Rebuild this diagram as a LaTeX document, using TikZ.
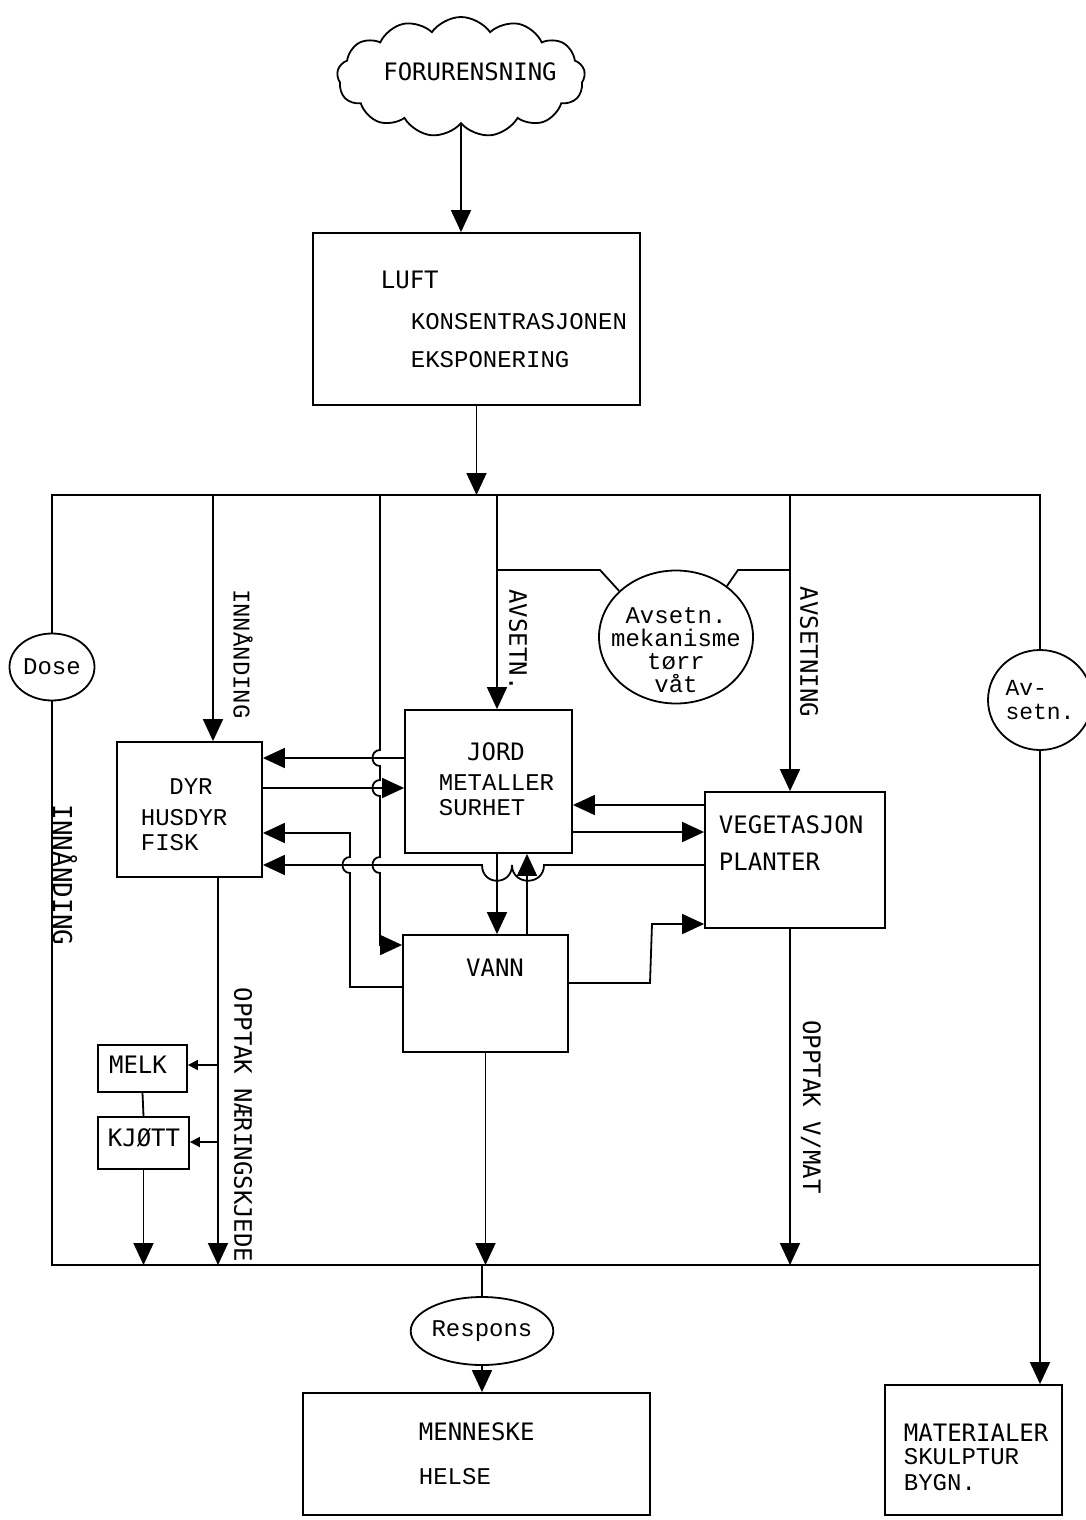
\documentclass[tikz,border=0pt]{standalone}
\usepackage{fontspec}
\usetikzlibrary{shapes.geometric,shapes.symbols,arrows.meta,calc}
\newfontfamily\tsans{DejaVu Sans Mono}
\newfontfamily\tser{Liberation Mono}
\begin{document}
\begin{tikzpicture}[x=0.5pt,y=-0.5pt,
  line width=0.9pt,
  box/.style={draw, rectangle, inner sep=0pt},
  oval/.style={draw, ellipse, inner sep=0pt},
  txs/.style={font=\tsans\fontsize{12}{14}\selectfont, inner sep=0pt},
  txr/.style={font=\tser\fontsize{12}{14}\selectfont, inner sep=0pt},
  arr/.style={-{Triangle[width=10pt,length=11pt]}},
  sarr/.style={-{Triangle[width=5pt,length=5pt]}},
]
\useasboundingbox (0,0) rectangle (1086,1520);

% level coordinates
\coordinate (tb) at (0,495);
\coordinate (bb) at (0,1265);
\coordinate (y570) at (0,570);
\coordinate (y758) at (0,758);
\coordinate (y788) at (0,788);
\coordinate (y805) at (0,805);
\coordinate (y832) at (0,832);
\coordinate (y833) at (0,833);
\coordinate (y865) at (0,865);
\coordinate (y924) at (0,924);
\coordinate (y945) at (0,945);
\coordinate (y983) at (0,983);
\coordinate (y987) at (0,987);
\coordinate (y1065) at (0,1065);
\coordinate (y1142) at (0,1142);
\coordinate (x213) at (213,0);
\coordinate (x218) at (218,0);
\coordinate (x380) at (380,0);
\coordinate (x497) at (497,0);
\coordinate (x527) at (527,0);
\coordinate (x790) at (790,0);

% shapes
\node[draw, cloud, cloud puffs=13, cloud puff arc=110, minimum width=124pt, minimum height=60pt] (cloud) at (461,77) {};
\node[box, minimum width=163.5pt, minimum height=86pt] (luft) at (476.5,319) {};
\node[box, minimum width=72.5pt, minimum height=67.5pt] (dyr) at (189.5,809.5) {};
\node[box, minimum width=83.5pt, minimum height=71.5pt] (jord) at (488.5,781.5) {};
\node[box, minimum width=90pt, minimum height=68pt] (veg) at (795,860) {};
\node[box, minimum width=82.5pt, minimum height=58.5pt] (vann) at (485.5,993.5) {};
\node[box, minimum width=44.5pt, minimum height=23.5pt] (melk) at (142.5,1068.5) {};
\node[box, minimum width=45.5pt, minimum height=26pt] (kjott) at (143.5,1143) {};
\node[box, minimum width=173.5pt, minimum height=61pt] (mann) at (476.5,1454) {};
\node[box, minimum width=88.5pt, minimum height=65pt] (mat) at (973.5,1450) {};

\node[oval, minimum width=42.5pt, minimum height=33.5pt, txr] (dose) at (52,667) {Dose};
\node[oval, minimum width=64.5pt, minimum height=34pt, txr] (resp) at (482,1331) {Respons};
\node[oval, minimum width=77pt, minimum height=66.5pt] (mek) at (676,637) {};
\node[oval, minimum width=52pt, minimum height=50pt, align=left, font=\tser\fontsize{11.5}{12}\selectfont] (avs) at (1040,700) {Av-\\setn.};

% texts
\node[txs] (cloudT) at (470,72) {FORURENSNING};
\node[txs, anchor=west] (luftT) at (380,280) {LUFT};
\node[txr, anchor=west] (konsT) at (410,322) {KONSENTRASJONEN};
\node[txr, anchor=west] (eksT) at (410,360) {EKSPONERING};
\node[txr, align=center, font=\tser\fontsize{12}{11.5}\selectfont] (mekT) at (676,650) {Avsetn.\\mekanisme\\tørr\\våt};
\node[txs] (jordT) at (496,752) {JORD};
\node[txr, anchor=west] (metT) at (438,783) {METALLER};
\node[txr, anchor=west] (surT) at (438,808) {SURHET};
\node[txr] (dyrT) at (191,787) {DYR};
\node[txr, anchor=west] (husT) at (140,818) {HUSDYR};
\node[txr, anchor=west] (fiskT) at (140,843) {FISK};
\node[txs, anchor=west] (vegT) at (718,825) {VEGETASJON};
\node[txs, anchor=west] (planT) at (718,862) {PLANTER};
\node[txs] (vannT) at (495,968) {VANN};
\node[txs] (melkT) at (138,1065) {MELK};
\node[txs] (kjottT) at (144,1138) {KJØTT};
\node[txs, anchor=west] (menT) at (418,1432) {MENNESKE};
\node[txr, anchor=west] (helT) at (418,1477) {HELSE};
\node[txs, anchor=west] (matT) at (903,1433) {MATERIALER};
\node[txr, anchor=west] (skuT) at (903,1457) {SKULPTUR};
\node[txr, anchor=west] (bygT) at (903,1483) {BYGN.};

% rotated labels
\node[txr, rotate=-90] (innTop) at (243,654) {INNÅNDING};
\node[txs, rotate=-90] (avsetnL) at (518,640) {AVSETN.};
\node[txs, rotate=-90] (avsetningL) at (809,652) {AVSETNING};
\node[txs, rotate=-90, font=\tsans\fontsize{13}{14}\selectfont] (innLeft) at (65,875) {INNÅNDING};
\node[txs, rotate=-90] (opptakN) at (243,1125) {OPPTAK NÆRINGSKJEDE};
\node[txs, rotate=-90] (opptakV) at (811,1107) {OPPTAK V/MAT};

% connectors
\draw[arr] (cloud.south) -- (cloud.south |- luft.north);
\draw[arr] (luft.south) -- (luft.south |- tb);
\draw (dose.north) -- (dose.north |- tb) -- (avs.north |- tb) -- (avs.north);
\draw (dose.south) -- (dose.south |- bb) -- (avs.south |- bb);
\draw[arr] (avs.south) -- (avs.south |- mat.north);

\draw[arr] (x213 |- tb) -- (x213 |- dyr.north);
\draw[arr] (x497 |- tb) -- (x497 |- jord.north);
\draw[arr] (x790 |- tb) -- (x790 |- veg.north);
\draw (x497 |- y570) -- (600,570) -- (mek.141);
\draw (mek.45) -- (738,570) -- (x790 |- y570);

\draw[arr] (x380 |- tb) -- (380,750) .. controls (370,750) and (370,766) .. (380,766)
  -- (380,780) .. controls (370,780) and (370,796) .. (380,796)
  -- (380,857) .. controls (370,857) and (370,873) .. (380,873)
  -- (380,945) -- (vann.west |- y945);

\draw[arr] (jord.west |- y758) -- (dyr.east |- y758);
\draw[arr] (dyr.east |- y788) -- (jord.west |- y788);
\draw[arr] (vann.west |- y987) -- (350,987) -- (350,873) .. controls (340,873) and (340,857) .. (350,857) -- (350,833) -- (dyr.east |- y833);
\draw[arr] (veg.west |- y865) -- (544,865) .. controls (544,886) and (512,886) .. (512,865)
  .. controls (512,886) and (482,886) .. (482,865) -- (dyr.east |- y865);
\draw[arr] (veg.west |- y805) -- (jord.east |- y805);
\draw[arr] (jord.east |- y832) -- (veg.west |- y832);
\draw[arr] (x497 |- jord.south) -- (x497 |- vann.north);
\draw[arr] (x527 |- vann.north) -- (x527 |- jord.south);
\draw[arr] (vann.east |- y983) -- (650,983) -- (652,924) -- (veg.west |- y924);

\draw[arr] (x218 |- dyr.south) -- (x218 |- bb);
\draw[sarr] (x218 |- y1065) -- (melk.east |- y1065);
\draw[sarr] (x218 |- y1142) -- (kjott.east |- y1142);
\draw (melk.south) -- (kjott.north);
\draw[arr] (kjott.south) -- (kjott.south |- bb);
\draw[arr] (vann.south) -- (vann.south |- bb);
\draw[arr] (x790 |- veg.south) -- (x790 |- bb);
\draw (resp.north |- bb) -- (resp.north);
\draw[arr] (resp.south) -- (resp.south |- mann.north);
\end{tikzpicture}
\end{document}
